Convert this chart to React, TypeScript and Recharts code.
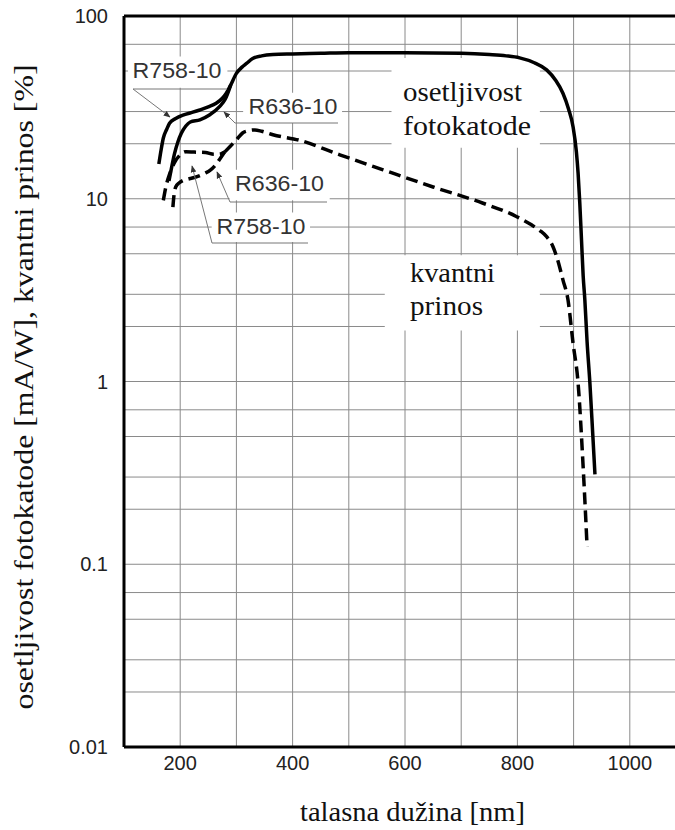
import React from 'react';
import { LineChart, Line, XAxis, YAxis, CartesianGrid, ReferenceLine, ReferenceArea } from 'recharts';

// photocathode sensitivity [mA/W]
const sensR758Nm = [162, 166, 170, 176, 181, 192, 205, 220, 235, 250, 264, 275, 282, 290, 300, 310, 318, 329, 345, 365, 400, 450, 500, 600, 700, 750, 780, 804, 830, 852, 868, 881, 891, 899, 905, 908, 911, 914, 917, 920, 924, 929, 934, 938];
const sensR758 = [15.5, 18.5, 21.5, 24, 25.9, 27.5, 28.7, 29.6, 30.6, 31.8, 33.3, 35.5, 37.8, 42, 48.5, 52.5, 55, 58.6, 60.5, 61.5, 62, 62.5, 63, 63, 62.5, 61.5, 60.5, 59, 55.5, 50.7, 44.5, 37.8, 31, 24.8, 18, 13.8, 9.5, 6, 3.8, 2.8, 1.65, 0.98, 0.52, 0.31];
const sensR636Nm = [180, 185, 190, 196, 202, 210, 218, 235, 252, 270, 280, 290];
const sensR636 = [12.5, 15, 17.7, 20.5, 22.8, 25, 26.3, 27, 28.7, 31.9, 35, 42];

// quantum efficiency [%]
const qeR758Nm = [170, 175, 181, 190, 200, 210, 225, 245, 260, 272, 279];
const qeR758 = [9.8, 11.8, 13.6, 15.8, 17.4, 18.1, 18, 17.9, 17.5, 17.6, 18];
const qeR636Nm = [187, 189, 192, 198, 205, 214, 230, 244, 253, 262, 270, 279];
const qeR636 = [9, 10.5, 11.6, 12.2, 12.6, 12.8, 13.2, 13.8, 14.3, 15.2, 16.4, 18];
const qeMainNm = [279, 290, 300, 311, 322, 333, 345, 365, 412, 484, 561, 650, 739, 798, 825, 840, 852, 863, 875, 881, 890, 899, 908, 917, 924];
const qeMain = [18, 19.5, 21, 22.9, 23.6, 23.8, 23.4, 22.4, 20.9, 17.4, 14.4, 11.6, 9.45, 8, 7.2, 6.7, 6.2, 5.5, 4.25, 3.6, 2.8, 1.62, 0.98, 0.34, 0.125];

const xTicks = [200, 400, 600, 800, 1000];
const yTicks = [0.01, 0.1, 1, 10, 100];
const xGrid = [100, 200, 300, 400, 500, 600, 700, 800, 900, 1000, 1100];
const yGrid = [0.01, 0.1, 1, 10].flatMap(d => [1, 2, 3, 4, 5, 6, 7, 8, 9].map(k => +(k * d).toPrecision(2))).concat([100]);

const pairs = (xs: number[], ys: number[]) => xs.map((nm, i) => ({ nm, v: ys[i] }));

const serif = {
  fontFamily: "'Liberation Serif', 'DejaVu Serif', 'Noto Serif', Tinos, FreeSerif, 'Times New Roman', Times, serif",
};
const sans = "'Liberation Sans', Arial, sans-serif";
const leader = '#777';

const labels = [
  { text: 'R758-10', x: 132.5, y: 78, path: [[227, 89], [133, 89], [170, 117]] },
  { text: 'R636-10', x: 248.5, y: 113.5, path: [[338, 123], [235, 123], [224, 112]] },
  { text: 'R636-10', x: 235, y: 190.5, path: [[327, 202], [230, 202], [217, 172]] },
  { text: 'R758-10', x: 216.5, y: 233.5, path: [[308, 243], [212, 243], [192, 166]] },
];

export default function App() {
  const solid = { stroke: '#000', strokeWidth: 3.5, dot: false, isAnimationActive: false, type: 'monotone' as const, dataKey: 'v' };
  const dashed = { ...solid, strokeDasharray: '12 6' };
  const fit = { lengthAdjust: 'spacingAndGlyphs' as const };

  return (
    <div style={{ position: 'fixed', left: 0, top: 0, width: 675, height: 830, overflow: 'hidden', background: '#fff' }}>
      <LineChart width={700} height={830} margin={{ top: 16, right: 14, bottom: 53, left: 0 }}>
        <CartesianGrid stroke="#8a8a8a" strokeWidth={1} horizontalValues={yGrid} verticalValues={xGrid} />
        <XAxis
          dataKey="nm"
          type="number"
          domain={[100, 1100]}
          ticks={xTicks}
          allowDataOverflow
          height={30}
          tickSize={0}
          tickMargin={9}
          axisLine={{ stroke: '#000', strokeWidth: 3 }}
          tick={{ fontSize: 20, fill: '#222', fontFamily: sans }}
        />
        <YAxis
          scale="log"
          domain={[0.01, 100]}
          ticks={yTicks}
          allowDataOverflow
          width={124}
          tickSize={0}
          tickMargin={16}
          tickFormatter={(v: number) => String(v)}
          axisLine={{ stroke: '#000', strokeWidth: 3 }}
          tick={{ fontSize: 20, fill: '#222', fontFamily: sans }}
        />
        <ReferenceLine y={100} stroke="#000" strokeWidth={3} />
        <ReferenceArea x1={576} x2={840} y1={19} y2={59} fill="#fff" fillOpacity={1} stroke="none" />
        <ReferenceArea x1={564} x2={840} y1={1.9} y2={4.9} fill="#fff" fillOpacity={1} stroke="none" />
        <ReferenceArea x1={107} x2={284} y1={40.5} y2={60} fill="#fff" fillOpacity={1} stroke="none" />
        <ReferenceArea x1={312} x2={488} y1={26} y2={38} fill="#fff" fillOpacity={1} stroke="none" />
        <ReferenceArea x1={288} x2={466} y1={9.8} y2={14.4} fill="#fff" fillOpacity={1} stroke="none" />
        <ReferenceArea x1={256} x2={431} y1={5.8} y2={8.4} fill="#fff" fillOpacity={1} stroke="none" />
        <Line {...solid} data={pairs(sensR758Nm, sensR758)} />
        <Line {...solid} data={pairs(sensR636Nm, sensR636)} />
        <Line {...dashed} data={pairs(qeR758Nm, qeR758)} />
        <Line {...dashed} data={pairs(qeR636Nm, qeR636)} />
        <Line {...dashed} data={pairs(qeMainNm, qeMain)} />
      </LineChart>

      <svg width={675} height={830} style={{ position: 'absolute', left: 0, top: 0, pointerEvents: 'none' }}>
        <defs>
          <marker id="tip" viewBox="0 0 10 10" refX="9" refY="5" markerWidth="7" markerHeight="7" orient="auto">
            <path d="M0,1 L10,5 L0,9 z" fill="#333" />
          </marker>
        </defs>
        {labels.map((l, i) => (
          <g key={i}>
            <polyline points={l.path.map(p => p.join(',')).join(' ')} fill="none" stroke={leader} strokeWidth={1} markerEnd="url(#tip)" />
            <text x={l.x} y={l.y} fontSize={22} fill="#333" style={{ fontFamily: sans }} textLength={89} {...fit}>{l.text}</text>
          </g>
        ))}
        <text x={403} y={101} fontSize={28} fill="#111" style={serif} textLength={119} {...fit}>osetljivost</text>
        <text x={403} y={135} fontSize={28} fill="#111" style={serif} textLength={128} {...fit}>fotokatode</text>
        <text x={410} y={282} fontSize={27} fill="#111" style={serif} textLength={85} {...fit}>kvantni</text>
        <text x={410} y={315} fontSize={27} fill="#111" style={serif} textLength={73} {...fit}>prinos</text>
        <text x={300} y={821} fontSize={28} fill="#111" style={serif} textLength={225} {...fit}>talasna dužina [nm]</text>
        <text
          transform="translate(33,387) rotate(-90)"
          fontSize={28}
          fill="#111"
          style={serif}
          textAnchor="middle"
          textLength={645}
          {...fit}
        >
          osetljivost fotokatode [mA/W], kvantni prinos [%]
        </text>
      </svg>
    </div>
  );
}
